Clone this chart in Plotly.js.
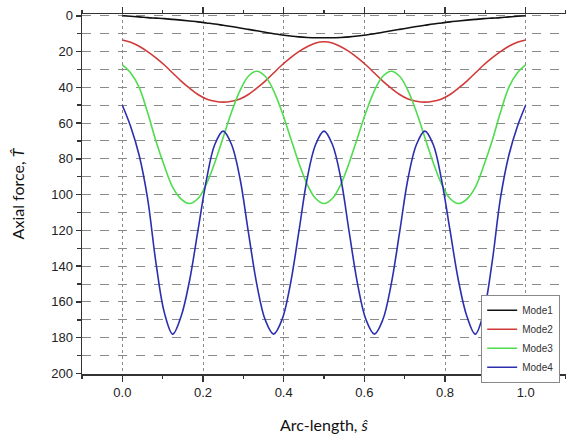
<!DOCTYPE html>
<html>
<head>
<meta charset="utf-8">
<script src="https://cdn.plot.ly/plotly-3.0.1.min.js"></script>
<style>html,body{margin:0;padding:0;background:#fff;}#chart{width:566px;height:439px;}</style>
</head>
<body>
<div id="chart"></div>
<script>
// Arc-length positions (s-hat)
const arcLength = [0, 0.0208, 0.0417, 0.0625, 0.0833, 0.1042, 0.125, 0.1458, 0.1667, 0.1875, 0.2083, 0.2292,
  0.25, 0.2708, 0.2917, 0.3125, 0.3333, 0.3542, 0.375, 0.3958, 0.4167, 0.4375, 0.4583, 0.4792,
  0.5, 0.5208, 0.5417, 0.5625, 0.5833, 0.6042, 0.625, 0.6458, 0.6667, 0.6875, 0.7083, 0.7292,
  0.75, 0.7708, 0.7917, 0.8125, 0.8333, 0.8542, 0.875, 0.8958, 0.9167, 0.9375, 0.9583, 0.9792, 1];

// Axial force (T-hat) for each mode
const mode1 = [0, 0.3, 0.6, 1.0, 1.3, 1.6, 2.0, 2.4, 2.9, 3.4, 4.0, 4.6,
  5.3, 6.0, 6.8, 7.6, 8.4, 9.2, 10.0, 10.7, 11.3, 11.8, 12.1, 12.3,
  12.3, 12.3, 12.1, 11.8, 11.3, 10.7, 10.0, 9.2, 8.4, 7.6, 6.8, 6.0,
  5.3, 4.6, 4.0, 3.4, 2.9, 2.4, 2.0, 1.6, 1.3, 1.0, 0.6, 0.3, 0];
const mode2 = [13.5, 14.8, 17, 20, 23.5, 27.5, 32, 36.5, 40.5, 44, 46.5, 47.8,
  48.3, 47.8, 46.5, 44, 40.5, 36.5, 32, 27.5, 23.5, 20, 17.3, 15.2,
  14.5, 15.2, 17.3, 20, 23.5, 27.5, 32, 36.5, 40.5, 44, 46.5, 47.8,
  48.3, 47.8, 46.5, 44, 40.5, 36.5, 32, 27.5, 23.5, 20, 17, 14.8, 13.5];
const mode3 = [27.5, 32, 40, 54, 70, 84, 96, 102.5, 105, 102.2, 94.2, 82.2,
  68, 53.8, 41.8, 33.8, 31, 33.8, 41.8, 53.8, 68, 82.2, 94.2, 102.2,
  105, 102.2, 94.2, 82.2, 68, 53.8, 41.8, 33.8, 31, 33.8, 41.8, 53.8,
  68, 82.2, 94.2, 102.2, 105, 102.5, 96, 84, 70, 54, 40, 32, 27.5];
const mode4 = [50, 62, 78, 102, 138, 166, 178, 168, 148, 120, 92, 72,
  64.5, 72, 91, 121, 150, 170, 178, 170, 150, 121, 91, 72,
  64.5, 72, 91, 121, 150, 170, 178, 170, 150, 121, 91, 72,
  64.5, 72, 92, 120, 148, 168, 178, 166, 138, 102, 78, 62, 50];

const seriesNames = ['Mode1', 'Mode2', 'Mode3', 'Mode4'];
const seriesData = [mode1, mode2, mode3, mode4];
const seriesColors = ['#111111', '#d23a3a', '#4fdc4f', '#2b2fae'];

const traces = seriesData.map((ys, k) => ({
  x: arcLength, y: ys, name: seriesNames[k], type: 'scatter', mode: 'lines',
  line: {color: seriesColors[k], width: 1.6, shape: 'spline', smoothing: 1}
}));

const axisColor = '#333333';
const layout = {
  width: 566, height: 439,
  margin: {l: 82, r: 0, t: 14, b: 65},
  paper_bgcolor: '#ffffff', plot_bgcolor: '#ffffff',
  font: {family: 'Liberation Sans, Arial, sans-serif', size: 13, color: '#222'},
  showlegend: true,
  legend: {
    x: 0.988, y: 0.22, xanchor: 'right', yanchor: 'top',
    bgcolor: '#ffffff', bordercolor: '#888888', borderwidth: 1,
    font: {family: 'Liberation Sans, Arial, sans-serif', size: 10, color: '#333'},
    itemwidth: 30, tracegroupgap: 0
  },
  xaxis: {
    range: [-0.1, 1.1], tick0: 0, dtick: 0.2, tickformat: '.1f',
    ticks: 'outside', ticklen: 6, tickwidth: 1.5, tickcolor: axisColor,
    showline: true, linecolor: axisColor, linewidth: 1.5, mirror: 'ticks',
    showgrid: true, gridcolor: '#8a8a8a', gridwidth: 1, griddash: 'dot',
    zeroline: false,
    minor: {dtick: 0.1, ticks: 'outside', ticklen: 3, tickcolor: axisColor, showgrid: false},
    title: {text: 'Arc-length, <i>ŝ</i>', font: {family: 'Lato, Open Sans, sans-serif', size: 16, color: '#111'}, standoff: 20},
    automargin: false
  },
  yaxis: {
    range: [200.3, -1], tick0: 0, dtick: 20,
    ticks: 'outside', ticklen: 5, tickwidth: 1.5, tickcolor: axisColor,
    showline: true, linecolor: axisColor, linewidth: 1.5, mirror: false,
    showgrid: true, gridcolor: '#8a8a8a', gridwidth: 1, griddash: 'dash',
    zeroline: false,
    minor: {dtick: 10, ticks: 'outside', ticklen: 4, tickcolor: axisColor, showgrid: true, gridcolor: '#8a8a8a', griddash: 'dash', gridwidth: 1},
    title: {text: 'Axial force, <i>T̂</i>', font: {family: 'Lato, Open Sans, sans-serif', size: 16, color: '#111'}, standoff: 22},
    automargin: false
  }
};

Plotly.newPlot('chart', traces, layout, {displayModeBar: false, staticPlot: true});
</script>
</body>
</html>
